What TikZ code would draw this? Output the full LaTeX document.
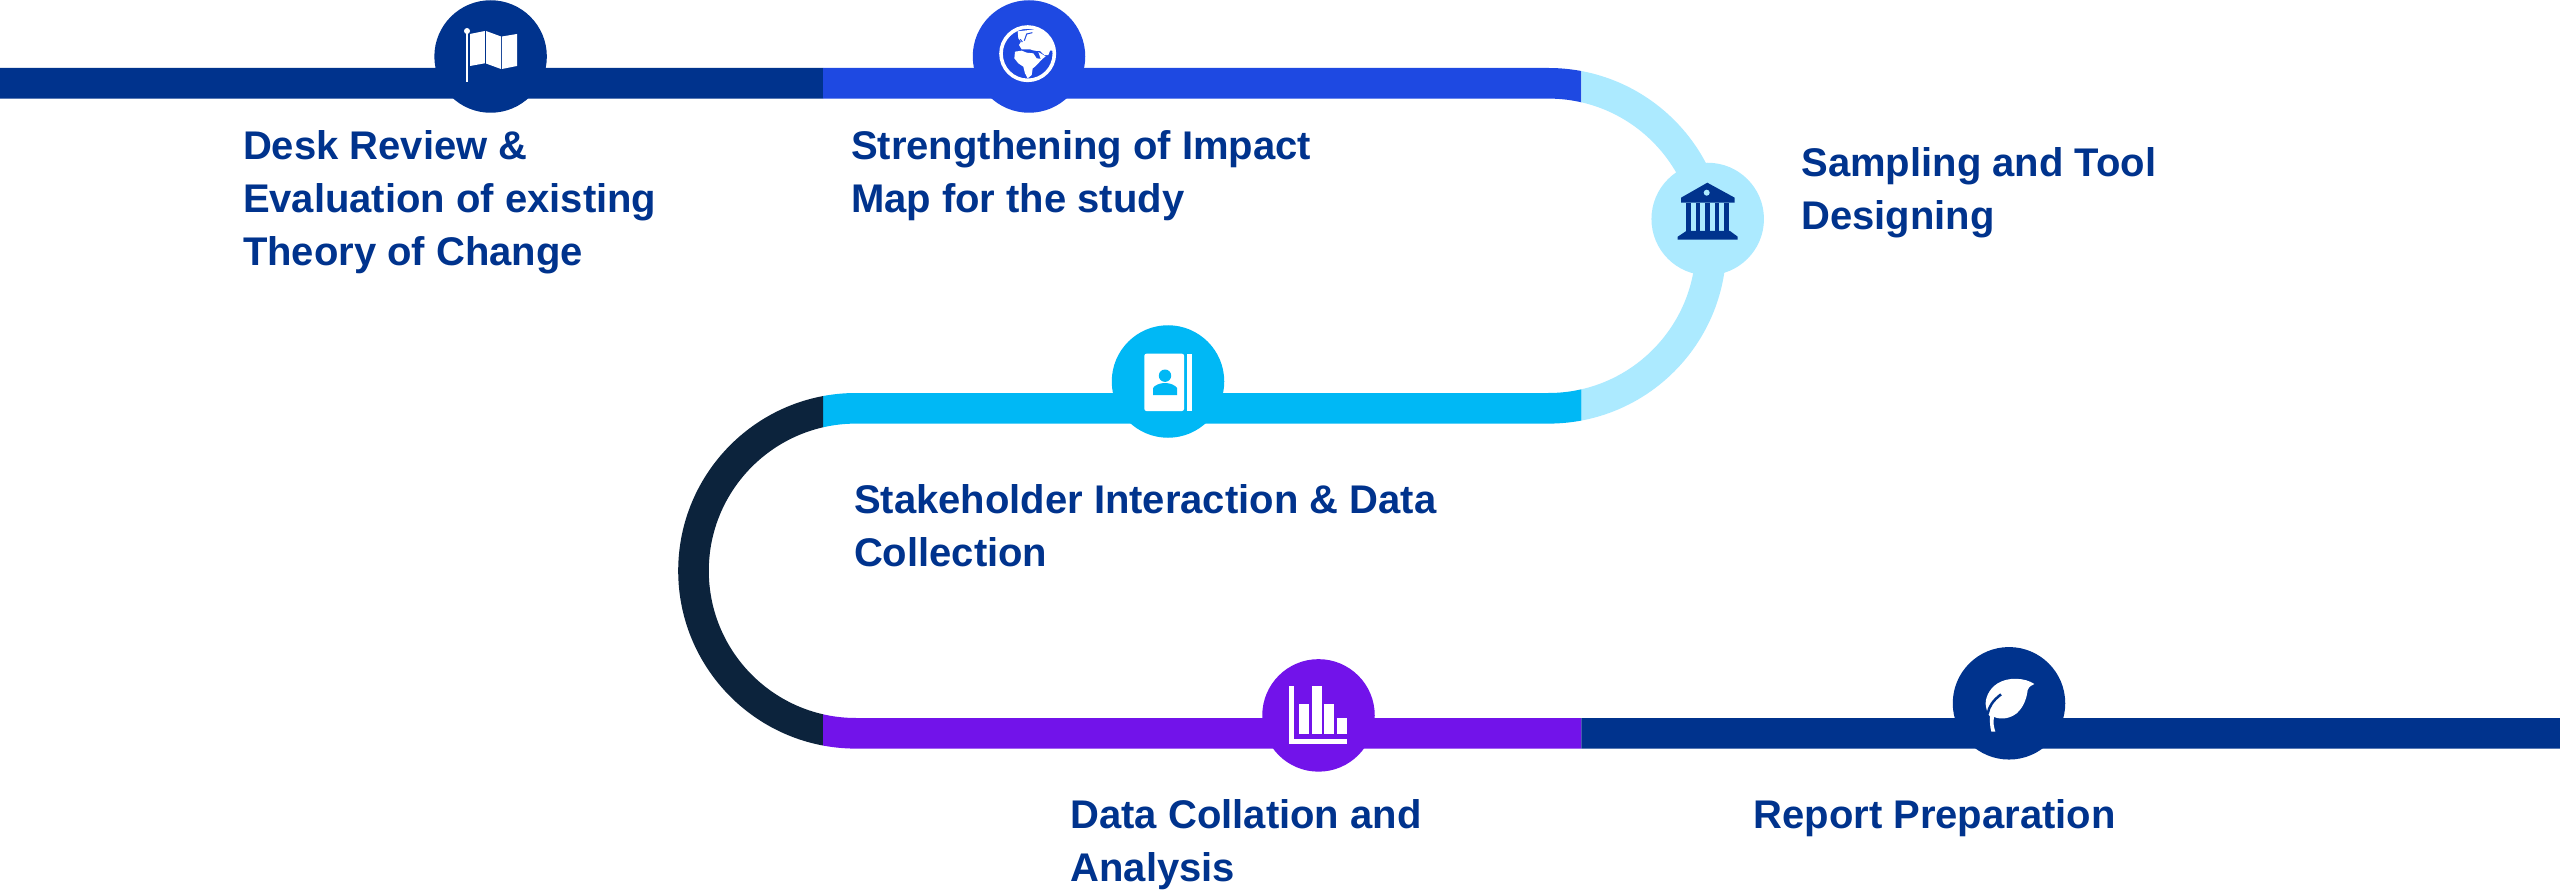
\documentclass[tikz,border=0pt]{standalone}
\usepackage{fontspec}
\setmainfont{Liberation Sans}
\definecolor{kdark}{HTML}{00338D}
\definecolor{kblue}{HTML}{1E49E2}
\definecolor{klight}{HTML}{ACEAFF}
\definecolor{kcyan}{HTML}{00B8F5}
\definecolor{knavy}{HTML}{0C233C}
\definecolor{kpurple}{HTML}{7213EA}
\tikzset{
  stop/.style={circle,minimum size=56.25pt,inner sep=0pt,outer sep=0pt,fill=#1},
  lab/.style={anchor=base west,inner sep=0pt,outer sep=0pt,align=left,text=kdark,
    font=\fontsize{20}{26.5}\selectfont\bfseries},
  track/.style={line width=15.3pt,line cap=butt,draw=#1},
}
\newcommand{\trackpath}{(p0) -- (p1) arc[start angle=-90,end angle=90,radius=162.5] -- (p2) arc[start angle=-90,end angle=-270,radius=162.5] -- (p3)}
\newcommand{\tracksegment}[5]{\begin{scope}\clip (#2,#3) rectangle (#4,#5);\draw[track=#1] \trackpath;\end{scope}}
\begin{document}
\begin{tikzpicture}[x=0.5pt,y=-0.5pt]
\useasboundingbox (0,0) rectangle (2560,893);
\fill[white] (0,0) rectangle (2560,893);
\coordinate (p0) at (0,83.3);
\coordinate (p1) at (1548.5,83.3);
\coordinate (p2) at (856,408.3);
\coordinate (p3) at (2560,733.3);
% track, one colour per stretch
\tracksegment{kdark}{0}{0}{823}{245}
\tracksegment{kblue}{823}{0}{1581.3}{245}
\tracksegment{klight}{1581.3}{0}{2000}{570}
\tracksegment{kcyan}{823}{245}{1581.3}{570}
\tracksegment{knavy}{0}{245}{823}{893}
\tracksegment{kpurple}{823}{570}{1581.3}{893}
\tracksegment{kdark}{1581.3}{570}{2560}{893}
% stops
\node[stop=kdark] (n1) at (490.6,56.5) {};
\node[stop=kblue] (n2) at (1029,56.5) {};
\node[stop=klight] (n3) at (1707.7,219) {};
\node[stop=kcyan] (n4) at (1168,381.5) {};
\node[stop=kpurple] (n5) at (1318.5,715.4) {};
\node[stop=kdark] (n6) at (2009,703.3) {};
% flag
\fill[white] (466.2,31) rectangle (468,82);
\fill[white] (467,31) circle[radius=3];
\fill[white] (470,34) -- (484.8,31) -- (484.8,63.3) -- (470,66) -- cycle;
\fill[white] (486,31) -- (501,36.5) -- (501,69) -- (486,63.5) -- cycle;
\fill[white] (502,36.5) -- (517,34) -- (517,66) -- (502,69) -- cycle;
% globe
\begin{scope}[shift={(985,10)},x=0.1667pt,y=-0.1667pt]
\draw[white,line width=1.8pt] (128,131) circle[radius=80];
\fill[white] (98,64) -- (150,58) -- (165,62) -- (190,80) -- (203,105) -- (206,122) -- (195,122) -- (190,135) -- (178,135) -- (165,123) -- (148,122) -- (135,118) -- (110,118) -- (102,105) -- (108,95) -- (100,85) -- cycle;
\fill[white] (90,125) -- (110,122) -- (125,128) -- (145,130) -- (155,145) -- (172,147) -- (150,170) -- (143,175) -- (140,195) -- (128,205) -- (120,190) -- (115,170) -- (100,160) -- (88,145) -- cycle;
\fill[white] (160,126) -- (182,139) -- (168,150) -- cycle;
\draw[kblue,line width=.5pt] (142,68) -- (125,72) -- (118,92);
\draw[kblue,line width=.5pt] (106,88) -- (112,96);
\end{scope}
% building
\fill[kdark] (1707.3,182.7) -- (1734.7,197.7) -- (1734.7,202.7) -- (1681,202.7) -- (1681,197.7) -- cycle;
\fill[klight] (1706.7,192.7) circle[radius=3];
\foreach \xa/\xb in {1686.3/1691.3,1695.7/1700.3,1705.3/1710,1714.7/1719.3,1724.3/1729}{\fill[kdark] (\xa,202.7) rectangle (\xb,231);}
\fill[kdark] (1686.3,231) -- (1730,231) -- (1737.7,236.7) -- (1737.7,239.7) -- (1677.7,239.7) -- (1677.7,236.7) -- cycle;
% book
\fill[white,rounded corners=1pt] (1144.4,353.7) -- (1184,353.7) -- (1184,411) -- (1144.4,411) -- cycle;
\fill[white] (1187,353.7) rectangle (1192,411);
\fill[kcyan] (1165,375.7) ellipse[x radius=6.2,y radius=6.2];
\fill[kcyan] (1153,395) -- (1153,388) .. controls (1155,385) and (1160,383) .. (1165,383) .. controls (1170,383) and (1175,385) .. (1177,388) -- (1177,395) -- cycle;
% chart
\fill[white] (1289,686) rectangle (1293.6,744.3);
\fill[white] (1289,739) rectangle (1347,744.3);
\fill[white] (1298.7,704) rectangle (1309,734);
\fill[white] (1312,686) rectangle (1322.3,734);
\fill[white] (1324,704) rectangle (1334.3,734);
\fill[white] (1337,718) rectangle (1347,734);
% leaf
\begin{scope}[shift={(1975,665)},x=0.1667pt,y=-0.1667pt]
\fill[white] (178,57) .. controls (150,38) and (100,35) .. (68,55) .. controls (40,72) and (28,105) .. (33,125) .. controls (34,132) and (36,138) .. (38,143) -- (45,155) .. controls (44,170) and (45,185) .. (49,200) -- (61,200) .. controls (56,185) and (54,172) .. (57,156) .. controls (80,165) and (105,160) .. (125,145) .. controls (150,122) and (155,95) .. (158,75) .. controls (162,65) and (170,60) .. (178,57) -- cycle;
\draw[kdark,line width=1.25pt] (38,146) .. controls (42,125) and (52,108) .. (78,88);
\end{scope}
% labels
\node[lab] (t1) at (243,265.5) {Desk Review \&\\Evaluation of existing\\Theory of Change};
\node[lab] (t2) at (851,212.5) {Strengthening of Impact\\Map for the study};
\node[lab] (t3) at (1801.5,229.5) {Sampling and Tool\\Designing};
\node[lab] (t4) at (854,566.5) {Stakeholder Interaction \& Data\\Collection};
\node[lab] (t5) at (1070.5,881) {Data Collation and\\Analysis};
\node[lab] (t6) at (1753.5,828.5) {Report Preparation};
\end{tikzpicture}
\end{document}
